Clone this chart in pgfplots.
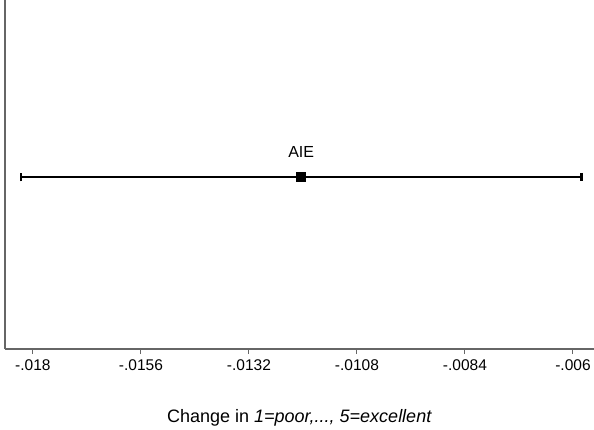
\documentclass[border=0pt]{standalone}
\usepackage{pgfplots}
\pgfplotsset{compat=1.18}
\usepackage{fontspec}
\setmainfont{Liberation Sans}
\definecolor{axgray}{gray}{0.4}
\begin{document}
\begin{tikzpicture}
\path[use as bounding box] (0,0) rectangle (594pt,429pt);
\begin{axis}[
  at={(5pt,80pt)}, anchor=south west,
  scale only axis, width=589pt, height=349pt,
  xmin=-0.01862, xmax=-0.005533,
  ymin=0, ymax=2.03,
  axis x line=bottom, axis y line=left,
  axis line style={-, axgray, line width=1.2pt},
  ytick=\empty,
  scaled x ticks=false,
  xtick={-0.018,-0.0156,-0.0132,-0.0108,-0.0084,-0.006},
  xticklabels={-.018,-.0156,-.0132,-.0108,-.0084,-.006},
  tick align=outside, major tick length=5pt,
  tick style={axgray, line width=1pt},
  xticklabel style={font=\fontsize{15.5}{17}\selectfont, yshift=-2pt},
  xlabel={Change in \textit{1=poor,..., 5=excellent}},
  xlabel style={font=\fontsize{18}{20}\selectfont, at={(axis description cs:0.5,0)}, anchor=base, yshift=-73.5pt},
  clip=false,
]
\addplot[black, line width=1.5pt, mark=square*, mark size=4pt,
  error bars/.cd, x dir=both, x explicit,
  error bar style={line width=1.5pt},
  error mark options={rotate=90, mark size=4.2pt, line width=2.2pt}]
  coordinates {(-0.01204,1) +- (0.00623,0)};
\node[anchor=base, font=\fontsize{16}{18}\selectfont] at (axis cs:-0.01204,1) [yshift=20pt] {AIE};
\end{axis}
\end{tikzpicture}
\end{document}
